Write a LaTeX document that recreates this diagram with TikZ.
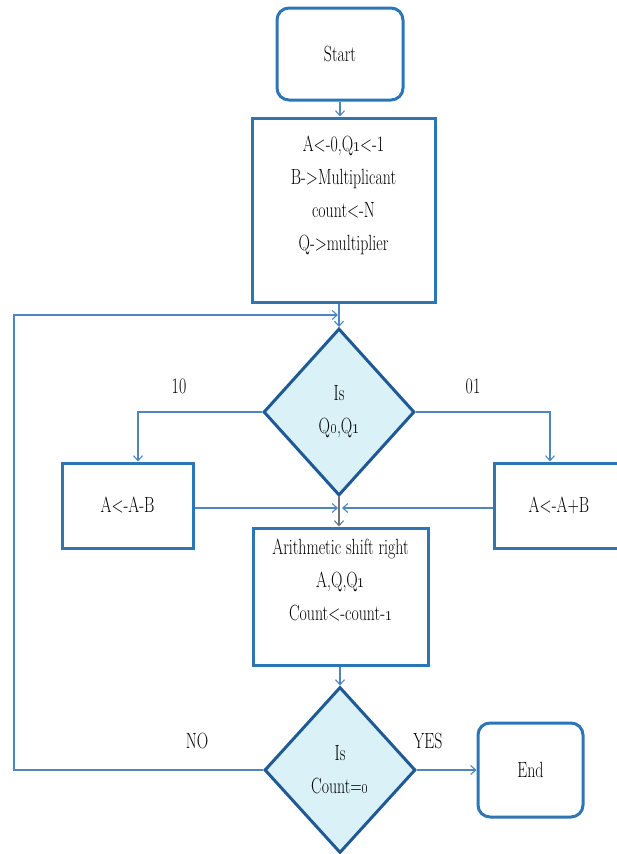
\documentclass[tikz,border=0pt]{standalone}
\usetikzlibrary{arrows.meta,shapes.geometric}
\usepackage{graphicx}
\definecolor{boxblue}{HTML}{2E75B6}
\definecolor{decblue}{HTML}{1F5A96}
\definecolor{decfill}{HTML}{DAF2F7}
\definecolor{lineblue}{HTML}{4F86C0}
\definecolor{midgray}{HTML}{6E7378}
\newcommand{\sq}[1]{\scalebox{0.72}[1]{#1}}
\newcommand{\os}[1]{\oldstylenums{#1}}
\begin{document}
\begin{tikzpicture}[x=1pt,y=-1pt,
  txt/.style={font=\fontsize{22}{33}\selectfont, align=center, text=black},
  rbox/.style={txt, draw=boxblue, line width=3pt, rounded corners=12pt, inner sep=0pt},
  pbox/.style={txt, draw=boxblue, line width=3pt, inner sep=0pt},
  dec/.style={txt, diamond, draw=decblue, fill=decfill, line width=3pt, inner sep=0pt},
  conn/.style={draw=lineblue, line width=1.1pt, -{Straight Barb[length=5pt,width=9pt]}},
  lab/.style={txt}]
\useasboundingbox (0,0) rectangle (616,854);

\node[rbox, minimum width=126pt, minimum height=92pt] (start) at (340,54) {\sq{Start}};
\node[pbox, minimum width=183pt, minimum height=184pt] (init) at (343.5,210)
  {\sq{A<-0,Q\os{1}<-1}\\\sq{B->Multiplicant}\\\sq{count<-N}\\\sq{Q->multiplier}\\\mbox{}};
\node[dec, minimum width=151pt, minimum height=167pt] (d1) at (339,412)
  {\sq{Is}\\\sq{Q\os{0},Q\os{1}}};
\node[pbox, minimum width=131pt, minimum height=85pt] (amb) at (127.5,505.5) {\sq{A<-A-B}};
\node[pbox, minimum width=130pt, minimum height=85pt] (apb) at (559,505.5) {\sq{A<-A+B}};
\node[pbox, minimum width=175pt, minimum height=137pt] (shift) at (340.5,596.5)
  {\sq{Arithmetic shift right}\\\sq{A,Q,Q\os{1}}\\\sq{Count<-count-\os{1}}\\\mbox{}};
\node[dec, minimum width=151pt, minimum height=166pt] (d2) at (340,770)
  {\sq{Is}\\\sq{Count=\os{0}}};
\node[rbox, minimum width=105pt, minimum height=94pt] (end) at (530.5,770) {\sq{End}};

\node[lab] (l10) at (179,386) {\sq{10}};
\node[lab] (l01) at (473,386) {\sq{01}};
\node[lab] (lno) at (197,741) {\sq{NO}};
\node[lab] (lyes) at (428,741) {\sq{YES}};

\coordinate (mid) at (340,508);
\coordinate (lb) at (14,770);
\coordinate (lt) at (14,315);
\coordinate (lend) at (338,315);

\draw[conn] (start.south) -- (start.south |- init.north);
\draw[conn] (d1.north |- init.south) -- (d1.north);
\draw[conn] (d1.west) -| ([xshift=10.5pt]amb.north);
\draw[conn] (d1.east) -| ([xshift=-9pt]apb.north);
\draw[conn] (amb.east |- mid) -- ([xshift=-2pt]mid);
\draw[conn] (apb.west |- mid) -- ([xshift=2pt]mid);
\draw[conn, draw=midgray] (d1.south) -- (d1.south |- shift.north);
\draw[conn] (d2.north |- shift.south) -- (d2.north);
\draw[conn] (d2.east) -- (end.west);
\draw[conn] (d2.west) -- (lb) -- (lt) -- (lend);
\end{tikzpicture}
\end{document}
